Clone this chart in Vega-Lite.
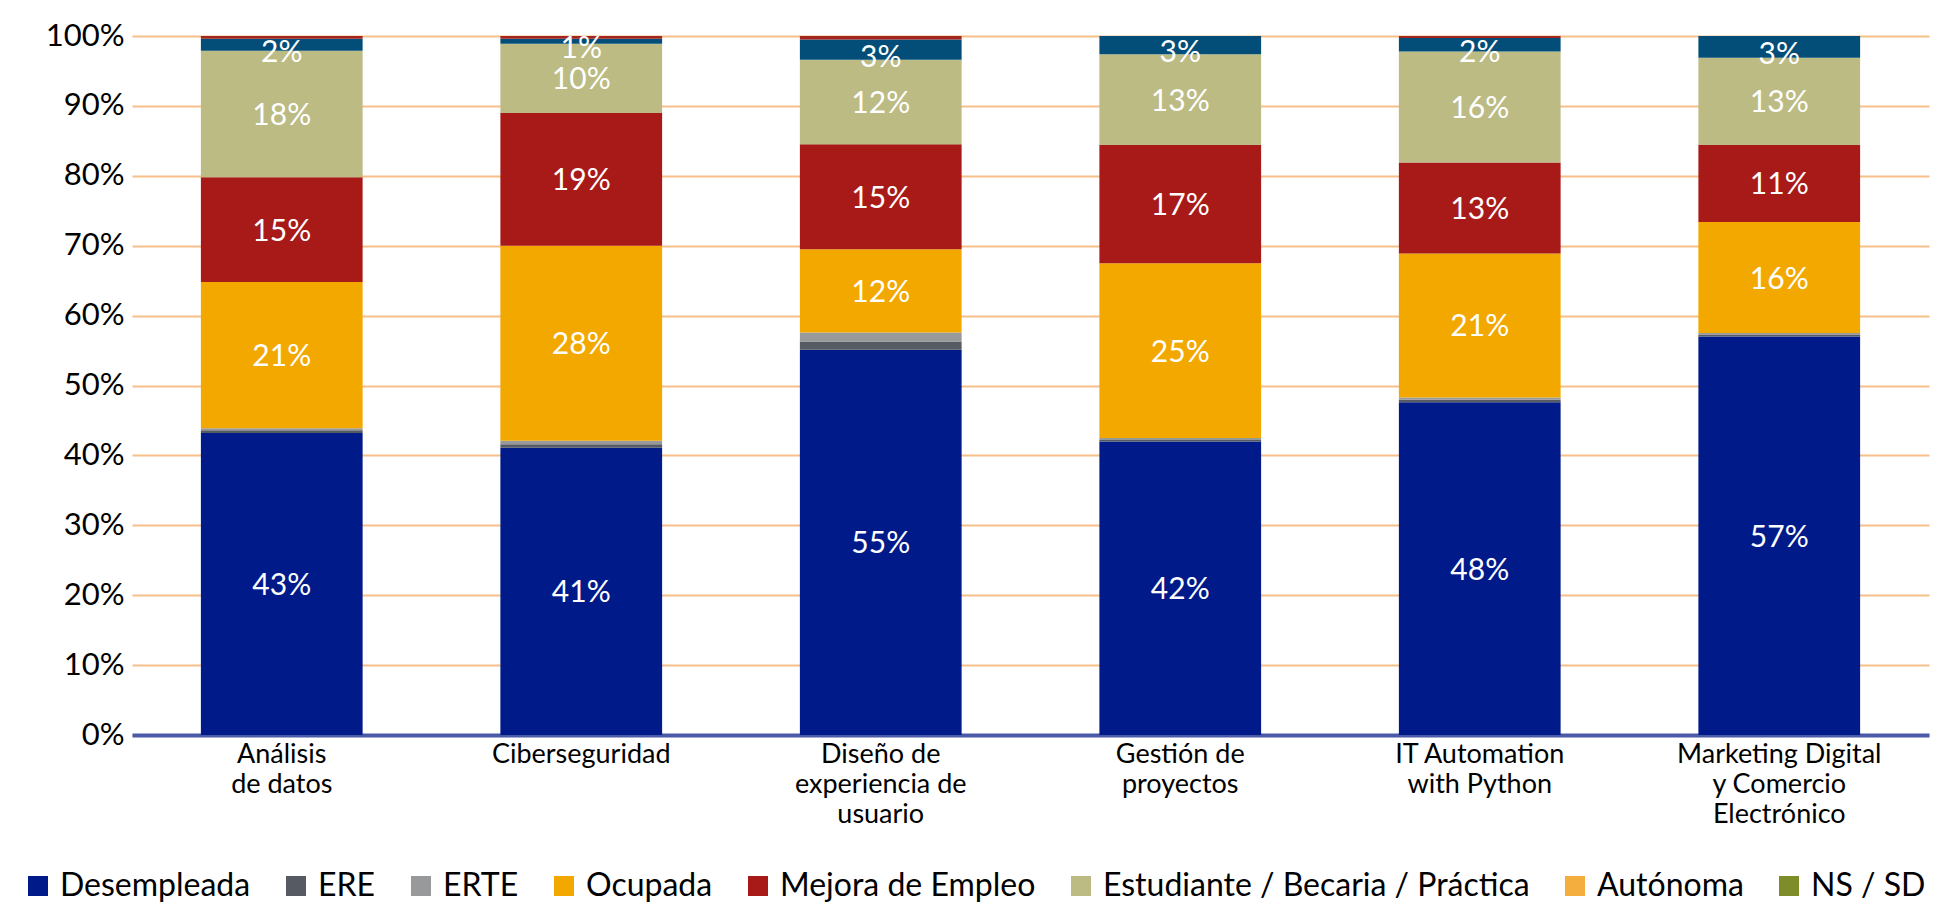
{
  "$schema": "https://vega.github.io/schema/vega-lite/v6.json",
  "autosize": "none",
  "width": 1797,
  "height": 699,
  "padding": {"left": 132, "top": 36, "right": 17, "bottom": 167},
  "background": "white",
  "config": {
    "view": {"stroke": null},
    "font": "Lato"
  },
  "data": {
    "values": [
      {"curso": "Análisis de datos", "estado": "Desempleada", "v": 43.2},
      {"curso": "Análisis de datos", "estado": "ERE", "v": 0.4},
      {"curso": "Análisis de datos", "estado": "ERTE", "v": 0.3},
      {"curso": "Análisis de datos", "estado": "Ocupada", "v": 20.9},
      {"curso": "Análisis de datos", "estado": "Mejora de Empleo", "v": 15.0},
      {"curso": "Análisis de datos", "estado": "Estudiante / Becaria / Práctica", "v": 18.1},
      {"curso": "Análisis de datos", "estado": "Otra situación", "v": 1.7},
      {"curso": "Análisis de datos", "estado": "Sin respuesta", "v": 0.4},
      {"curso": "Ciberseguridad", "estado": "Desempleada", "v": 41.1},
      {"curso": "Ciberseguridad", "estado": "ERE", "v": 0.5},
      {"curso": "Ciberseguridad", "estado": "ERTE", "v": 0.5},
      {"curso": "Ciberseguridad", "estado": "Ocupada", "v": 27.9},
      {"curso": "Ciberseguridad", "estado": "Mejora de Empleo", "v": 19.0},
      {"curso": "Ciberseguridad", "estado": "Estudiante / Becaria / Práctica", "v": 9.9},
      {"curso": "Ciberseguridad", "estado": "Otra situación", "v": 0.7},
      {"curso": "Ciberseguridad", "estado": "Sin respuesta", "v": 0.4},
      {"curso": "Diseño de experiencia de usuario", "estado": "Desempleada", "v": 55.1},
      {"curso": "Diseño de experiencia de usuario", "estado": "ERE", "v": 1.2},
      {"curso": "Diseño de experiencia de usuario", "estado": "ERTE", "v": 1.3},
      {"curso": "Diseño de experiencia de usuario", "estado": "Ocupada", "v": 11.9},
      {"curso": "Diseño de experiencia de usuario", "estado": "Mejora de Empleo", "v": 15.0},
      {"curso": "Diseño de experiencia de usuario", "estado": "Estudiante / Becaria / Práctica", "v": 12.1},
      {"curso": "Diseño de experiencia de usuario", "estado": "Otra situación", "v": 2.9},
      {"curso": "Diseño de experiencia de usuario", "estado": "Sin respuesta", "v": 0.5},
      {"curso": "Gestión de proyectos", "estado": "Desempleada", "v": 42.0},
      {"curso": "Gestión de proyectos", "estado": "ERE", "v": 0.2},
      {"curso": "Gestión de proyectos", "estado": "ERTE", "v": 0.3},
      {"curso": "Gestión de proyectos", "estado": "Ocupada", "v": 25.0},
      {"curso": "Gestión de proyectos", "estado": "Mejora de Empleo", "v": 16.9},
      {"curso": "Gestión de proyectos", "estado": "Estudiante / Becaria / Práctica", "v": 13.0},
      {"curso": "Gestión de proyectos", "estado": "Otra situación", "v": 2.6},
      {"curso": "IT Automation with Python", "estado": "Desempleada", "v": 47.6},
      {"curso": "IT Automation with Python", "estado": "ERE", "v": 0.35},
      {"curso": "IT Automation with Python", "estado": "ERTE", "v": 0.35},
      {"curso": "IT Automation with Python", "estado": "Ocupada", "v": 20.6},
      {"curso": "IT Automation with Python", "estado": "Mejora de Empleo", "v": 13.0},
      {"curso": "IT Automation with Python", "estado": "Estudiante / Becaria / Práctica", "v": 15.9},
      {"curso": "IT Automation with Python", "estado": "Otra situación", "v": 1.9},
      {"curso": "IT Automation with Python", "estado": "Sin respuesta", "v": 0.3},
      {"curso": "Marketing Digital y Comercio Electrónico", "estado": "Desempleada", "v": 57.0},
      {"curso": "Marketing Digital y Comercio Electrónico", "estado": "ERE", "v": 0.3},
      {"curso": "Marketing Digital y Comercio Electrónico", "estado": "ERTE", "v": 0.2},
      {"curso": "Marketing Digital y Comercio Electrónico", "estado": "Ocupada", "v": 15.9},
      {"curso": "Marketing Digital y Comercio Electrónico", "estado": "Mejora de Empleo", "v": 11.0},
      {"curso": "Marketing Digital y Comercio Electrónico", "estado": "Estudiante / Becaria / Práctica", "v": 12.5},
      {"curso": "Marketing Digital y Comercio Electrónico", "estado": "Otra situación", "v": 3.1}
    ]
  },
  "transform": [
    {"calculate": "indexof(['Desempleada','ERE','ERTE','Ocupada','Mejora de Empleo','Estudiante / Becaria / Práctica','Otra situación','Sin respuesta'], datum.estado)", "as": "ord"},
    {"stack": "v", "groupby": ["curso"], "sort": [{"field": "ord", "order": "ascending"}], "as": ["v0", "v1"]},
    {"calculate": "(datum.v0 + datum.v1) / 2", "as": "mid"},
    {"calculate": "format(datum.v, '.0f') + '%'", "as": "lbl"}
  ],
  "encoding": {
    "x": {
      "field": "curso",
      "type": "nominal",
      "sort": null,
      "scale": {"paddingInner": 0.46, "paddingOuter": 0.23},
      "axis": {
        "title": null,
        "labelAngle": 0,
        "labelFontSize": 27,
        "labelColor": "#000000",
        "labelLineHeight": 30,
        "labelBaseline": "top",
        "labelPadding": 6,
        "labelLimit": 0,
        "ticks": false,
        "domainColor": "#4a5aa8",
        "domainWidth": 4,
        "labelExpr": "datum.value == 'Análisis de datos' ? ['Análisis', 'de datos'] : datum.value == 'Diseño de experiencia de usuario' ? ['Diseño de', 'experiencia de', 'usuario'] : datum.value == 'Gestión de proyectos' ? ['Gestión de', 'proyectos'] : datum.value == 'IT Automation with Python' ? ['IT Automation', 'with Python'] : datum.value == 'Marketing Digital y Comercio Electrónico' ? ['Marketing Digital', 'y Comercio', 'Electrónico'] : datum.value"
      }
    }
  },
  "layer": [
    {
      "mark": {"type": "bar"},
      "encoding": {
        "y": {
          "field": "v0",
          "type": "quantitative",
          "scale": {"domain": [0, 100], "nice": false},
          "axis": {
            "title": null,
            "values": [0, 10, 20, 30, 40, 50, 60, 70, 80, 90, 100],
            "labelExpr": "datum.value + '%'",
            "labelFontSize": 31,
            "labelColor": "#000000",
            "labelPadding": 8,
            "ticks": false,
            "domain": false,
            "grid": true,
            "gridColor": "#f7c089",
            "gridWidth": 2,
            "gridOpacity": 1
          }
        },
        "y2": {"field": "v1"},
        "color": {
          "field": "estado",
          "type": "nominal",
          "scale": {
            "domain": ["Desempleada", "ERE", "ERTE", "Ocupada", "Mejora de Empleo", "Estudiante / Becaria / Práctica", "Autónoma", "NS / SD", "Otra situación", "Sin respuesta"],
            "range": ["#001a8a", "#555a63", "#98999b", "#f3a800", "#a81a18", "#bcbb84", "#f4ae3d", "#7f8c2a", "#024e78", "#a3261e"]
          },
          "legend": {
            "title": null,
            "values": ["Desempleada", "ERE", "ERTE", "Ocupada", "Mejora de Empleo", "Estudiante / Becaria / Práctica", "Autónoma", "NS / SD"],
            "orient": "none",
            "direction": "horizontal",
            "legendX": -110,
            "legendY": 834,
            "symbolType": "square",
            "symbolSize": 400,
            "symbolStrokeWidth": 0,
            "symbolOpacity": 1,
            "labelFontSize": 32,
            "labelColor": "#000000",
            "labelOffset": 6,
            "columnPadding": 29,
            "labelLimit": 0
          }
        }
      }
    },
    {
      "transform": [{"filter": "indexof(['Desempleada','Ocupada','Mejora de Empleo','Estudiante / Becaria / Práctica'], datum.estado) >= 0"}],
      "mark": {"type": "text", "color": "#ffffff", "fontSize": 30, "baseline": "middle", "dy": 2},
      "encoding": {
        "y": {"field": "mid", "type": "quantitative"},
        "text": {"field": "lbl", "type": "nominal"}
      }
    },
    {
      "transform": [{"filter": "datum.estado == 'Otra situación'"}],
      "mark": {"type": "text", "color": "#ffffff", "fontSize": 30, "baseline": "middle", "dy": 8},
      "encoding": {
        "y": {"field": "mid", "type": "quantitative"},
        "text": {"field": "lbl", "type": "nominal"}
      }
    }
  ]
}
